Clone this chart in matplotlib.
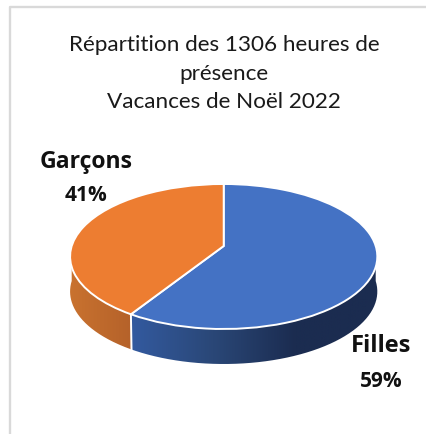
import numpy as np
import matplotlib
matplotlib.use("Agg")
import matplotlib.pyplot as plt
from matplotlib.transforms import Transform
from matplotlib.path import Path
from matplotlib.patches import PathPatch
from matplotlib.colors import LinearSegmentedColormap

categories = ["Filles", "Garçons"]
shares = [59, 41]
colors = ["#4472C4", "#ED7D31"]
title = "Répartition des 1306 heures de\nprésence\nVacances de Noël 2022"

W, H = 427, 435
CX, CY = 223.7, 257.5
A, B, C, K = 152.0, 72.5, 10.5, 0.1448
DEPTH = 35


def project(uv):
    uv = np.asarray(uv, float)
    u, v = uv[..., 0], uv[..., 1]
    w = 1 + K * v
    return np.stack([CX + A * u / w, CY - (B * v + C) / w], axis=-1)


class Tilt(Transform):
    input_dims = output_dims = 2
    has_inverse = False
    is_separable = False

    def transform_non_affine(self, values):
        return project(values)


def rim(t0, t1, n=200):
    t = np.radians(np.linspace(t0, t1, n))
    return project(np.column_stack([np.cos(t), np.sin(t)]))


def side(t0, t1, cmap, x0, x1, ax):
    top = rim(t0, t1)
    low = top[::-1] + [0, DEPTH]
    poly = np.vstack([top, low, top[:1]])
    clip = PathPatch(Path(poly), fc="none", ec="none", transform=ax.transData)
    ax.add_patch(clip)
    grad = np.linspace(0, 1, 256)[None, :]
    im = ax.imshow(grad, cmap=cmap, extent=(x0, x1, 400, 200), aspect="auto", zorder=1)
    im.set_clip_path(clip)


fig = plt.figure(figsize=(W / 100, H / 100), dpi=100, facecolor="white")
ax = fig.add_axes([0, 0, 1, 1])

wedges, _ = ax.pie(shares, colors=colors, startangle=90, counterclock=False,
                   wedgeprops=dict(edgecolor="white", linewidth=1.4, zorder=3))
tilt = Tilt() + ax.transData
for wd in wedges:
    wd.set_transform(tilt)

split = 90 - 360 * shares[0] / sum(shares)
seam = rim(split, split, 1)[0]
blue = LinearSegmentedColormap.from_list("b", ["#335A9F", "#2A4777", "#1B2C50", "#1B2C50"])
orange = LinearSegmentedColormap.from_list("o", ["#C9722F", "#B5622A"])
side(split, 0, blue, seam[0], 377, ax)
side(180, split + 360, orange, 70, seam[0], ax)

ax.plot([seam[0], seam[0] + 0.6], [seam[1], seam[1] + DEPTH], color="white", lw=1.4, zorder=4)

ax.set(xlim=(0, W), ylim=(H, 0), aspect="auto")
ax.axis("off")

# chart frame, cut off by the image on the right and bottom
ax.plot([10, 10, W], [H, 8, 8], color="#D9D9D9", lw=1.7, zorder=0, clip_on=False)

ax.text(224, 73.5, title, ha="center", va="center", fontsize=16.2, family="Lato",
        color="#1A1A1A", linespacing=1.56)
ax.text(86, 162, categories[1], ha="center", va="center", fontsize=16.6,
        family="Open Sans", weight="bold", color="#111111")
ax.text(86, 196, f"{shares[1]}%", ha="center", va="center", fontsize=15,
        family="Open Sans", weight="bold", color="#111111")
ax.text(381, 346, categories[0], ha="center", va="center", fontsize=17,
        family="Open Sans", weight="bold", color="#111111")
ax.text(381, 382, f"{shares[0]}%", ha="center", va="center", fontsize=15,
        family="Open Sans", weight="bold", color="#111111")

fig.savefig("out.png", dpi=100)
